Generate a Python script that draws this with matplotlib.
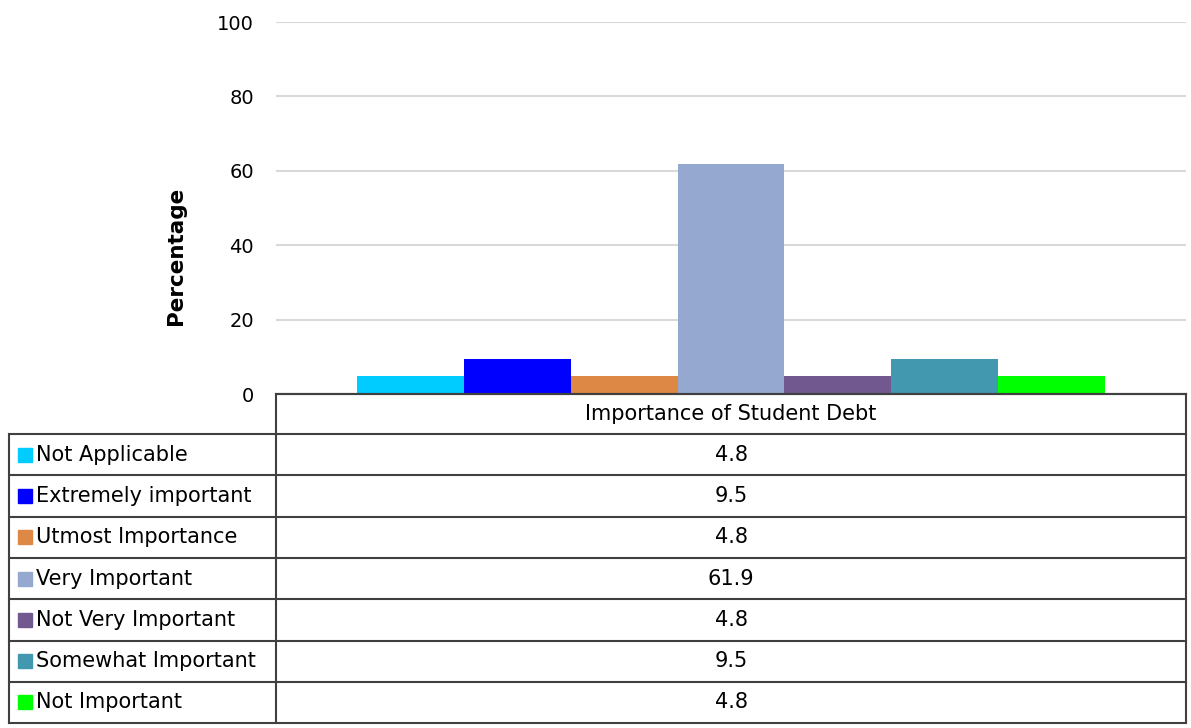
import matplotlib.pyplot as plt
import numpy as np

# ── Data ───────────────────────────────────────────────
categories = ["Not Applicable", "Extremely important", "Utmost Importance",
              "Very Important", "Not Very Important", "Somewhat Important",
              "Not Important"]
values = [4.8, 9.5, 4.8, 61.9, 4.8, 9.5, 4.8]
group_label = "Importance of Student Debt"
colors = ["#00CCFF", "#0000FF", "#DD8844", "#95A9D0", "#71588F", "#4198AF", "#00FF00"]
yticks = [0, 20, 40, 60, 80, 100]

plt.rcParams["font.family"] = ["DejaVu Sans"]

W, H = 1191, 728
fig = plt.figure(figsize=(W / 100, H / 100), dpi=100)

# ── Bar chart ──────────────────────────────────────────
ax_left, ax_right, ax_top, ax_bottom = 276, 1186, 22, 394
ax = fig.add_axes([ax_left / W, 1 - ax_bottom / H,
                   (ax_right - ax_left) / W, (ax_bottom - ax_top) / H])
n = len(values)
bw = 0.1173
offsets = (np.arange(n) - (n - 1) / 2) * bw
for off, v, c in zip(offsets, values, colors):
    ax.bar(off, v, width=bw, color=c, zorder=3)
ax.set_xlim(-0.5, 0.5)
ax.set_ylim(0, 100)
ax.set_yticks(yticks)
ax.set_xticks([])
ax.tick_params(axis="y", length=0, pad=16, labelsize=14)
ax.yaxis.grid(True, color="#D9D9D9", linewidth=1.5, zorder=0)
for s in ["top", "right", "left"]:
    ax.spines[s].set_visible(False)
ax.spines["bottom"].set_color("#404040")
ax.spines["bottom"].set_linewidth(1.5)
ax.spines["bottom"].set_zorder(4)
ax.set_ylabel("Percentage", fontsize=15.5, fontweight="bold")
ax.yaxis.set_label_coords(-0.099, 0.371)

# ── Data table (drawn in pixel coords) ─────────────────
ov = fig.add_axes([0, 0, 1, 1])
ov.set_xlim(0, W)
ov.set_ylim(H, 0)
ov.axis("off")

lc = "#404040"
lw = 1.5
tbl_left = 9
row0 = 434
rh = 41.3
row_y = [row0 + k * rh for k in range(n + 1)]

ov.plot([ax_left, ax_right], [ax_bottom, ax_bottom], color=lc, lw=lw)
ov.plot([ax_left, ax_left], [ax_bottom, row_y[-1]], color=lc, lw=lw)
ov.plot([ax_right, ax_right], [ax_bottom, row_y[-1]], color=lc, lw=lw)
ov.plot([tbl_left, tbl_left], [row0, row_y[-1]], color=lc, lw=lw)
for y in row_y:
    ov.plot([tbl_left, ax_right], [y, y], color=lc, lw=lw)

mid_x = (ax_left + ax_right) / 2
ov.text(mid_x, (ax_bottom + row0) / 2, group_label, ha="center", va="center",
        fontsize=15)
for i, (cat, v, c) in enumerate(zip(categories, values, colors)):
    yc = row_y[i] + rh / 2
    ov.add_patch(plt.Rectangle((18, yc - 7), 14, 14, color=c))
    ov.text(36, yc, cat, ha="left", va="center", fontsize=15)
    ov.text(mid_x, yc, f"{v:.1f}", ha="center", va="center", fontsize=15)

fig.savefig("out.png", dpi=100)
